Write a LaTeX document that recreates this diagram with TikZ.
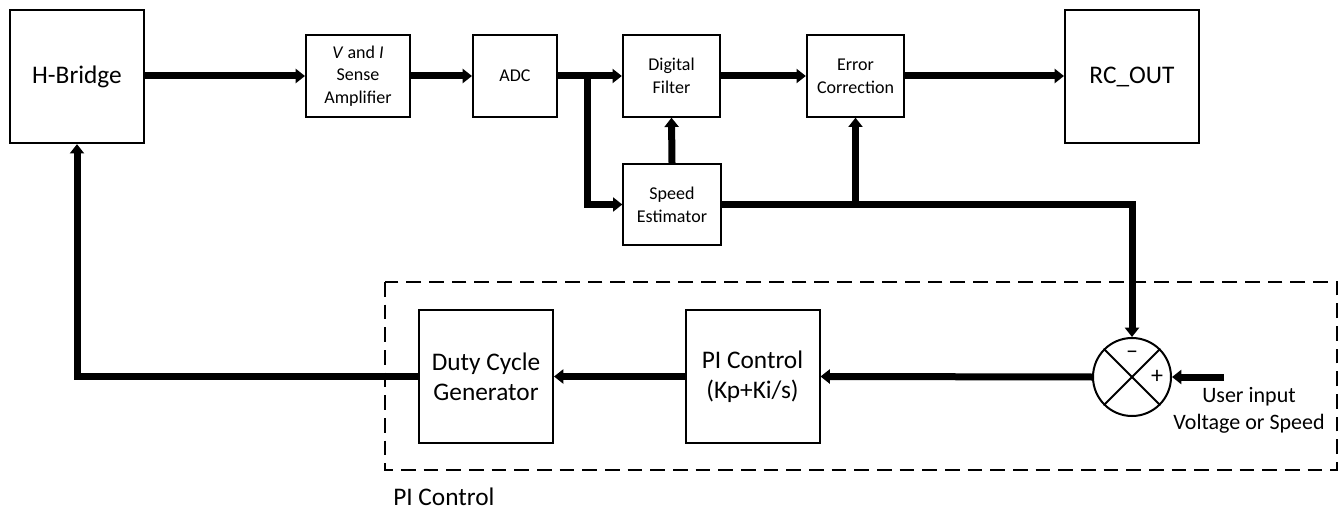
\documentclass[tikz,border=0pt]{standalone}
\usepackage{fontspec}
\setmainfont{Carlito}
\usetikzlibrary{arrows.meta}
\tikzset{
  blk/.style={draw, line width=1.5pt, align=center, inner sep=0pt},
  bigblk/.style={blk, minimum width=100.5pt, minimum height=100pt, font=\fontsize{19}{22.5}\selectfont},
  smallblk/.style={blk, minimum width=73pt, minimum height=61pt, font=\fontsize{13.5}{17}\selectfont},
  arr/.style={line width=5.25pt, line join=miter, -{Triangle[width=10.5pt,length=7pt]}},
  sign/.style={font=\fontsize{18}{18}\selectfont, inner sep=0pt},
}
\begin{document}
\begin{tikzpicture}[x=0.75pt,y=-0.75pt]
\useasboundingbox (0,0) rectangle (1340,510);
% top row
\node[bigblk] (hb) at (77,76.5) {H-Bridge};
\node[smallblk, minimum width=78pt] (sa) at (358,76) {\textit{V} and \textit{I}\\Sense\\Amplifier};
\node[smallblk, minimum width=63pt] (adc) at (515,76) {ADC};
\node[smallblk] (df) at (671.5,76) {Digital\\Filter};
\node[smallblk] (ec) at (855.5,76) {Error\\Correction};
\node[bigblk] (rc) at (1132,76.5) {RC\_OUT};
\node[smallblk] (se) at (672,204.5) {Speed\\Estimator};
% PI control group
\draw[line width=1.5pt, dash pattern=on 11pt off 6pt] (385,282) rectangle (1337,470);
\node[anchor=west, font=\fontsize{19}{22.5}\selectfont, inner sep=0pt] (pilabel) at (393,497) {PI Control};
\node[bigblk] (dc) at (486,376.5) {Duty Cycle\\Generator};
\node[bigblk] (pi) at (752.5,376.5) {PI Control\\(Kp+Ki/s)};
\node[draw, circle, line width=1.5pt, minimum size=58.5pt, inner sep=0pt] (sum) at (1132,377) {};
\draw[line width=1.5pt] (sum.north west) -- (sum.south east);
\draw[line width=1.5pt] (sum.north east) -- (sum.south west);
\node[sign] (minus) at (1132,355) {–};
\node[sign] (plus) at (1157,377) {+};
\node[align=center, font=\fontsize{16.5}{20}\selectfont, inner sep=0pt] (ui) at (1249,410) {User input\\Voltage or Speed};
\coordinate (uistart) at (1224,377);
% connectors
\draw[arr] (hb.east |- sa.west) -- (sa.west);
\draw[arr] (sa.east) -- (adc.west);
\draw[arr] (adc.east) -- (df.west);
\coordinate (br) at (587,76);
\draw[arr] (br) |- (se.west);
\draw[arr] (se.north) -- (df.south);
\draw[arr] (df.east) -- (ec.west);
\draw[arr] (ec.east) -- (rc.west |- ec.east);
\draw[arr] (se.east) -| (sum.north);
\draw[arr] (ec.south |- se.east) -- (ec.south);
\draw[arr] (uistart) -- (sum.east);
\draw[arr] (sum.west) -- (pi.east);
\draw[arr] (pi.west) -- (dc.east);
\draw[arr] (dc.west) -| (hb.south);
\end{tikzpicture}
\end{document}
